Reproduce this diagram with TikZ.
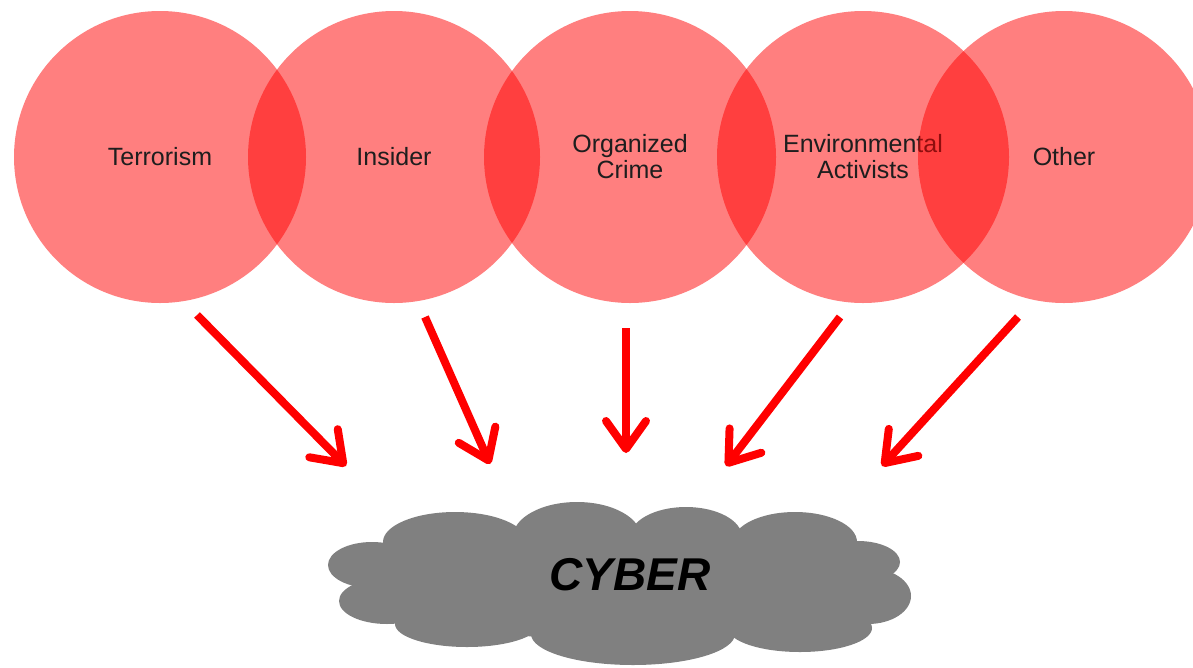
\documentclass[tikz,border=0pt]{standalone}
\usepackage{fontspec}
\setmainfont{Liberation Sans}
\usetikzlibrary{arrows.meta}

\definecolor{labeltext}{HTML}{1E1E1E}
\definecolor{cloudgray}{HTML}{808080}

\tikzset{
    threat/.style={circle, minimum size=292pt, inner sep=0pt, fill=red, fill opacity=0.5,
        text opacity=1, text=labeltext, align=center, font=\fontsize{25}{26}\selectfont},
    hit/.style={red, line width=8pt, -{Straight Barb[length=28pt,width=40pt,round]}},
    cybertext/.style={inner sep=0pt, font=\fontsize{46}{46}\selectfont\bfseries\itshape}
}

\begin{document}
\begin{tikzpicture}[x=1pt,y=-1pt]
    \useasboundingbox (0,0) rectangle (1193,667);

    % Threat circles
    \node[threat] (terror) at (160,157) {Terrorism};
    \node[threat] (insider) at (394,157) {Insider};
    \node[threat] (crime) at (630,157) {Organized\\Crime};
    \node[threat] (enviro) at (863,157) {Environmental\\Activists};
    \node[threat] (other) at (1064,157) {Other};

    % Cloud made of puffs
    \fill[cloudgray] (620,585) ellipse [x radius=250, y radius=55];
    \fill[cloudgray] (455,542) ellipse [x radius=72, y radius=30];
    \fill[cloudgray] (577,537) ellipse [x radius=64, y radius=35];
    \fill[cloudgray] (686,537) ellipse [x radius=56, y radius=30];
    \fill[cloudgray] (795,542) ellipse [x radius=62, y radius=30];
    \fill[cloudgray] (372,565) ellipse [x radius=44, y radius=23];
    \fill[cloudgray] (387,601) ellipse [x radius=48, y radius=23];
    \fill[cloudgray] (858,562) ellipse [x radius=42, y radius=21];
    \fill[cloudgray] (868,596) ellipse [x radius=43, y radius=28];
    \fill[cloudgray] (467,624) ellipse [x radius=72, y radius=23];
    \fill[cloudgray] (633,634) ellipse [x radius=102, y radius=31];
    \fill[cloudgray] (800,628) ellipse [x radius=72, y radius=24];
    \node[cybertext] (cyber) at (630,575) {CYBER};

    % Arrow ends
    \coordinate (s1) at (197,315);  \coordinate (e1) at (346,466);
    \coordinate (s2) at (425,317);  \coordinate (e2) at (490,464);
    \coordinate (s3) at (626,328);  \coordinate (e3) at (626,453);
    \coordinate (s4) at (840,317);  \coordinate (e4) at (726,466);
    \coordinate (s5) at (1018,317); \coordinate (e5) at (882,466);

    % Arrows
    \draw[hit] (s1) -- (e1);
    \draw[hit] (s2) -- (e2);
    \draw[hit] (s3) -- (e3);
    \draw[hit] (s4) -- (e4);
    \draw[hit] (s5) -- (e5);
\end{tikzpicture}
\end{document}
